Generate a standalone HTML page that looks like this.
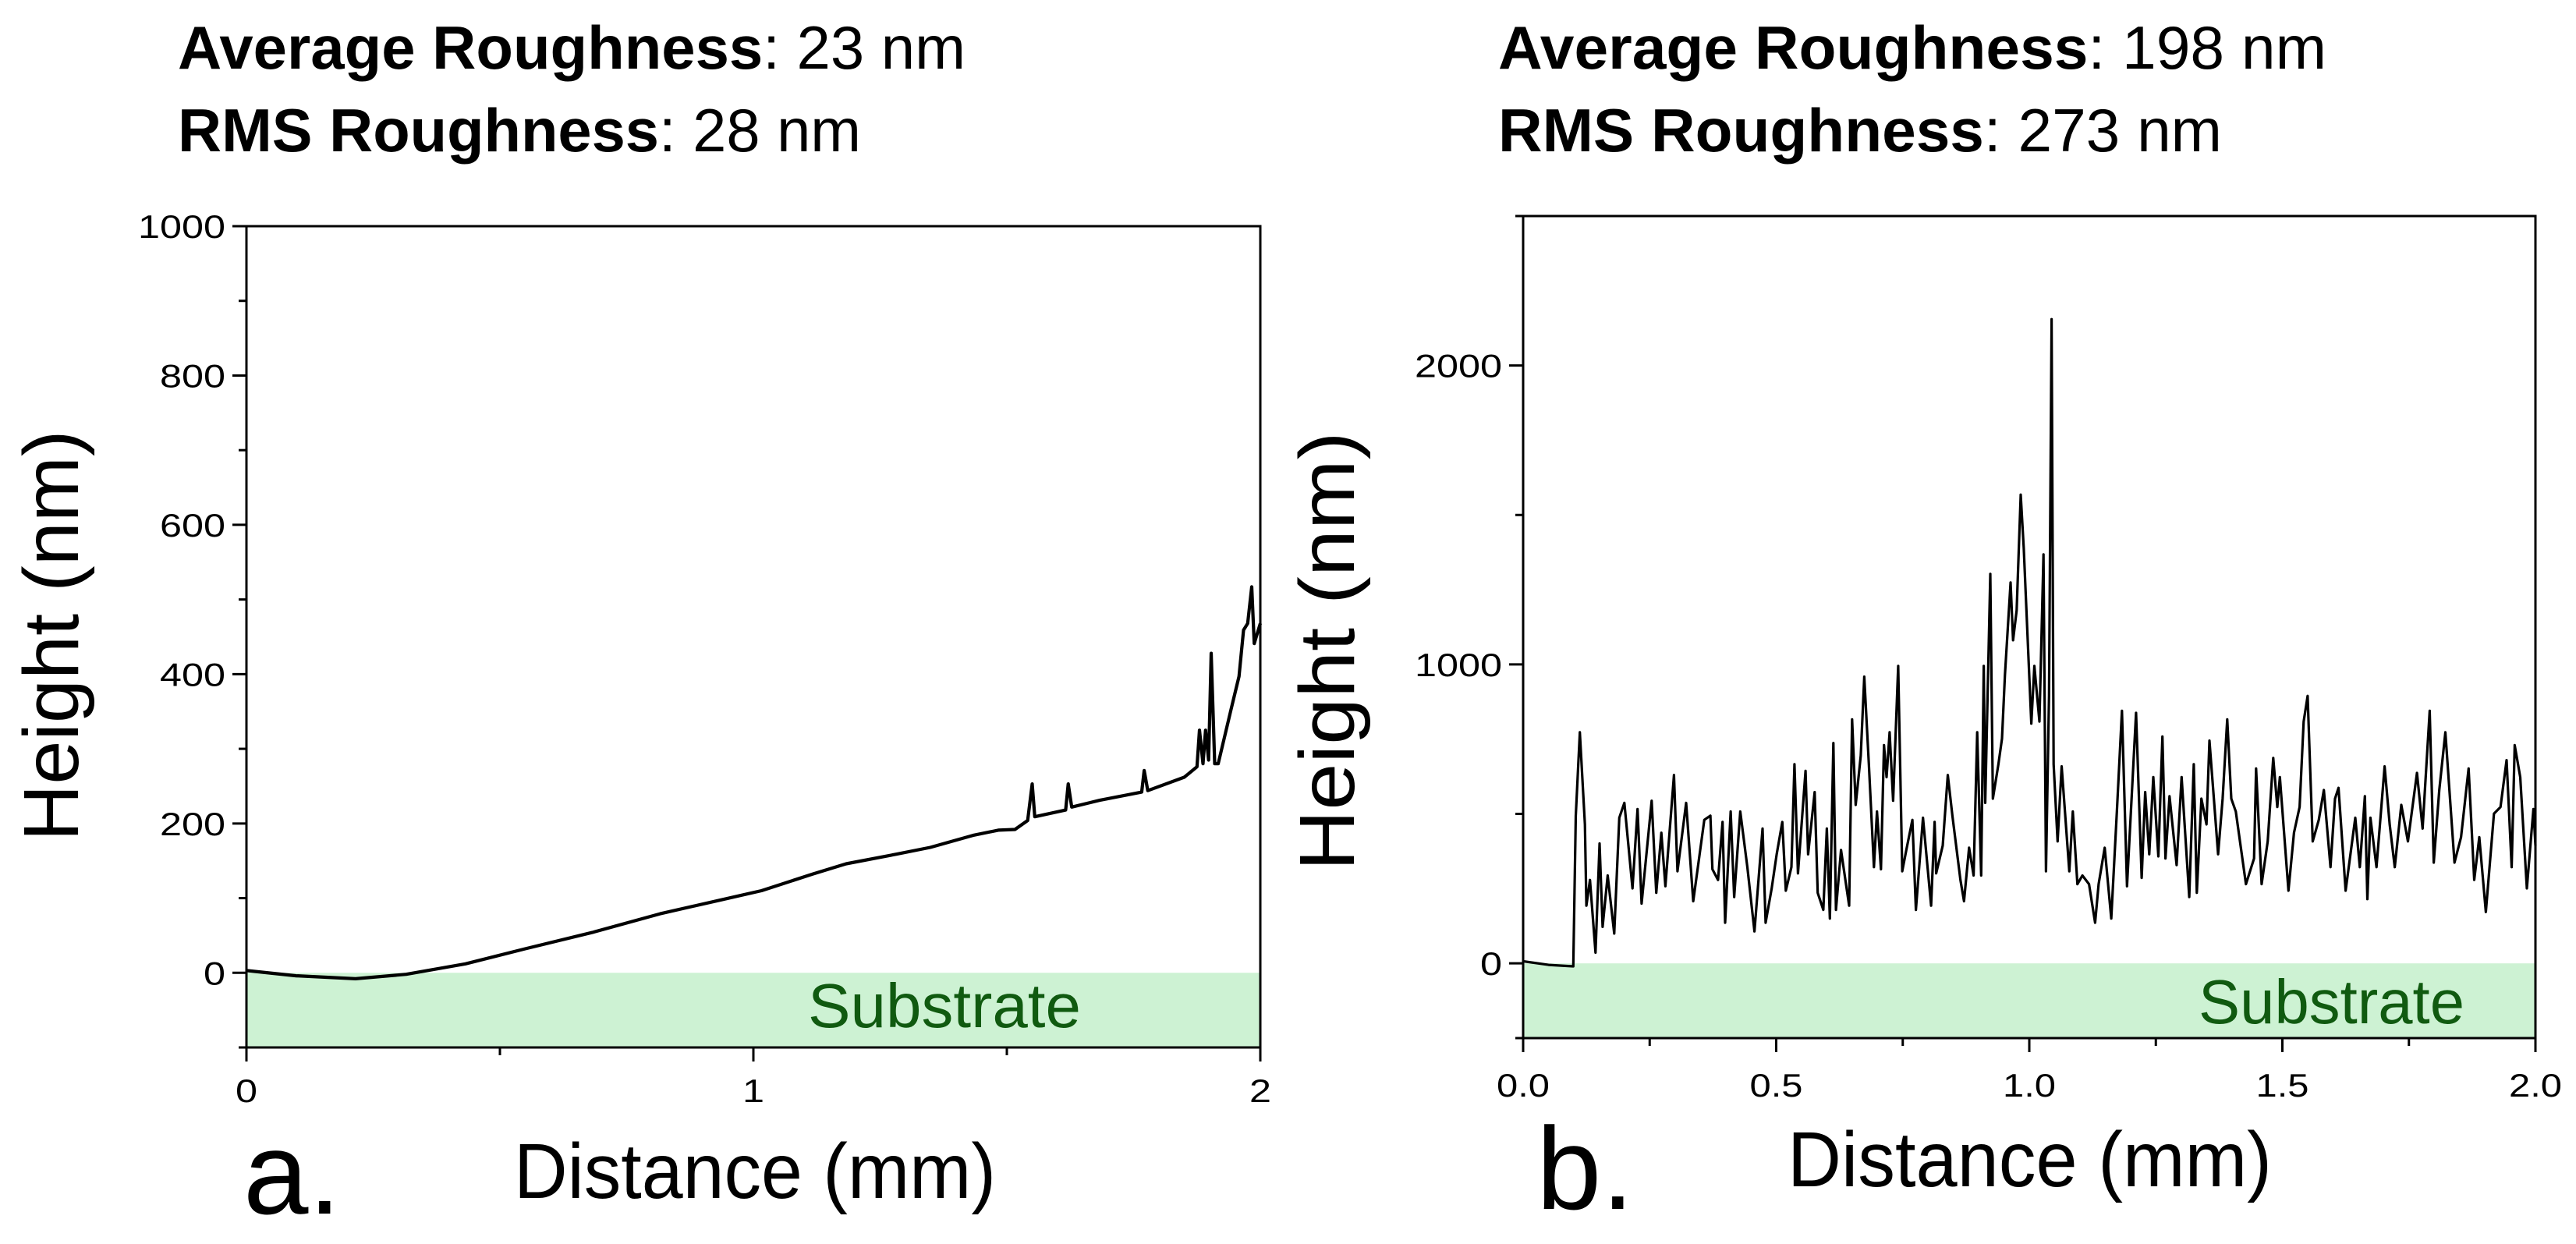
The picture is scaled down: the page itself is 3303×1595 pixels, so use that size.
<!DOCTYPE html>
<html><head><meta charset="utf-8"><style>
html,body{margin:0;padding:0;background:#fff;}
svg{display:block;font-family:"Liberation Sans",Arial,sans-serif;}
</style></head><body>
<svg id="fig" width="3303" height="1595" viewBox="0 0 3303 1595" xmlns="http://www.w3.org/2000/svg">
<g font-family="Liberation Sans, sans-serif" font-size="78">
<text x="228" y="88" textLength="1010" lengthAdjust="spacingAndGlyphs"><tspan font-weight="bold">Average Roughness</tspan>: 23 nm</text>
<text x="228" y="194" textLength="876" lengthAdjust="spacingAndGlyphs"><tspan font-weight="bold">RMS Roughness</tspan>: 28 nm</text>
</g>
<g font-family="Liberation Sans, sans-serif" font-size="78">
<text x="1921" y="88" textLength="1062" lengthAdjust="spacingAndGlyphs"><tspan font-weight="bold">Average Roughness</tspan>: 198 nm</text>
<text x="1921" y="194" textLength="928" lengthAdjust="spacingAndGlyphs"><tspan font-weight="bold">RMS Roughness</tspan>: 273 nm</text>
</g>
<g id="panelA"></g>
<g id="panelB"></g>
</svg>
<script>
// Chart a data
const aX = [0,0.098,0.215,0.315,0.432,0.549,0.682,0.816,0.932,1.016,1.116,1.183,1.283,1.349,1.433,1.483,1.516,1.541,1.55,1.555,1.616,1.621,1.628,1.683,1.766,1.771,1.778,1.85,1.875,1.88,1.887,1.892,1.898,1.903,1.91,1.917,1.942,1.958,1.967,1.975,1.983,1.988,2.0];
const aY = [3,-4,-8,-2,12,32,54,79,97,110,132,146,159,168,184,191,192,204,253,209,218,253,222,231,242,271,244,262,276,325,280,325,285,428,280,280,352,397,459,468,517,441,468];
const aYTicks = [0,200,400,600,800,1000];
const aXTicks = [0,1,2];
const aXTickLabels = ["0","1","2"];
// Chart b data
const bX = [0,0.05,0.099,0.104,0.112,0.122,0.125,0.132,0.143,0.151,0.157,0.167,0.18,0.19,0.2,0.216,0.226,0.234,0.254,0.263,0.273,0.281,0.298,0.305,0.322,0.336,0.358,0.37,0.374,0.385,0.394,0.399,0.41,0.417,0.429,0.443,0.457,0.473,0.479,0.491,0.501,0.512,0.519,0.53,0.536,0.543,0.558,0.563,0.576,0.582,0.593,0.6,0.606,0.613,0.618,0.628,0.644,0.65,0.657,0.667,0.674,0.683,0.693,0.699,0.707,0.713,0.718,0.724,0.731,0.741,0.749,0.757,0.769,0.776,0.79,0.806,0.813,0.816,0.829,0.839,0.848,0.864,0.871,0.881,0.89,0.897,0.905,0.91,0.913,0.923,0.928,0.939,0.946,0.952,0.963,0.968,0.975,0.983,0.989,1.004,1.01,1.02,1.028,1.033,1.039,1.044,1.048,1.056,1.064,1.079,1.086,1.095,1.105,1.118,1.13,1.137,1.149,1.162,1.173,1.183,1.193,1.211,1.222,1.229,1.237,1.245,1.255,1.263,1.269,1.277,1.291,1.301,1.316,1.325,1.331,1.34,1.35,1.356,1.373,1.382,1.391,1.399,1.408,1.428,1.444,1.448,1.459,1.471,1.482,1.49,1.495,1.512,1.523,1.534,1.542,1.55,1.56,1.572,1.582,1.595,1.604,1.611,1.625,1.644,1.653,1.663,1.668,1.674,1.686,1.702,1.712,1.722,1.735,1.748,1.766,1.777,1.791,1.799,1.81,1.822,1.84,1.853,1.868,1.879,1.889,1.902,1.918,1.931,1.943,1.953,1.959,1.97,1.983,1.996,2.0];
const bY = [7,-5,-10,494,773,465,193,279,36,401,122,294,100,487,537,251,516,200,544,236,437,258,630,308,537,208,480,494,315,279,473,136,508,222,508,322,107,451,136,251,365,473,243,322,666,301,644,365,573,236,179,451,150,737,179,379,193,816,530,695,959,666,322,508,315,730,623,773,544,995,308,379,480,179,487,193,473,301,394,630,494,279,208,387,294,773,294,995,537,1303,551,666,752,966,1274,1081,1181,1568,1389,802,995,809,1368,308,895,2155,666,408,659,308,508,265,294,265,136,265,387,150,508,845,258,838,286,573,365,623,358,759,351,559,329,623,222,666,236,551,465,745,365,551,816,551,508,265,351,652,265,408,687,523,623,243,437,523,809,895,408,480,580,322,551,587,243,487,322,559,215,487,322,659,465,322,530,408,637,451,845,337,580,773,337,422,652,279,422,172,501,523,680,322,730,623,251,516,394];
const bYTicks = [0,1000,2000];
const bYMinor = [-250,500,1500,2500];
const bXTicks = [0,0.5,1.0,1.5,2.0];
const bXTickLabels = ["0.0","0.5","1.0","1.5","2.0"];
const NS = "http://www.w3.org/2000/svg";
function mk(tag, attrs, parent){const e=document.createElementNS(NS,tag);for(const k in attrs)e.setAttribute(k,attrs[k]);parent.appendChild(e);return e;}
function panel(g, cfg){
  const L=cfg.L,R=cfg.R,T=cfg.T,B=cfg.B;
  const sx=v=>L+(v-cfg.x0)/(cfg.x1-cfg.x0)*(R-L);
  const sy=v=>B-(v-cfg.y0)/(cfg.y1-cfg.y0)*(B-T);
  const sub=mk('rect',{x:L,y:sy(0),width:R-L,height:B-sy(0),fill:'#cdf2d3'},g);
  
  
  const st=mk('text',{x:cfg.subX,y:cfg.subY,'font-size':80,fill:'#105a10','font-family':'Liberation Sans, sans-serif',textLength:cfg.subW,lengthAdjust:'spacingAndGlyphs'},g);
  st.textContent='Substrate';
  
  
  let d='';
  cfg.xs.forEach((x,i)=>{d+=(i?'L':'M')+sx(x).toFixed(1)+' '+sy(cfg.ys[i]).toFixed(1);});
  const ln=mk('path',{d:d,fill:'none',stroke:'#000','stroke-width':cfg.sw,'stroke-linejoin':'round'},g);
  
  
  const fr=mk('rect',{x:L,y:T,width:R-L,height:B-T,fill:'none',stroke:'#000','stroke-width':3},g);
  
  
  cfg.yTicks.forEach(v=>{
    const t=mk('line',{x1:L-18,x2:L,y1:sy(v),y2:sy(v),stroke:'#000','stroke-width':3},g);
    
    
    const s=String(v);
    const lb=mk('text',{x:L-27,y:sy(v)+15,'text-anchor':'end','font-size':42,textLength:s.length*28,lengthAdjust:'spacingAndGlyphs'},g);
    lb.textContent=s;
    
    
  });
  cfg.yMinor.forEach(v=>{
    const t=mk('line',{x1:L-10,x2:L,y1:sy(v),y2:sy(v),stroke:'#000','stroke-width':3},g);
    
    
  });
  cfg.xTicks.forEach((v,i)=>{
    const t=mk('line',{x1:sx(v),x2:sx(v),y1:B,y2:B+18,stroke:'#000','stroke-width':3},g);
    
    
    const s=cfg.xLabels[i];
    const lb=mk('text',{x:sx(v),y:cfg.xLabY,'text-anchor':'middle','font-size':42,textLength:s.replace('.','').length*28+(s.includes('.')?12:0),lengthAdjust:'spacingAndGlyphs'},g);
    lb.textContent=s;
    
    
  });
  cfg.xMinor.forEach(v=>{
    const t=mk('line',{x1:sx(v),x2:sx(v),y1:B,y2:B+10,stroke:'#000','stroke-width':3},g);
    
    
  });
  const yt=mk('text',{x:0,y:0,'font-size':100,'text-anchor':'middle',transform:`translate(${cfg.yTitleX},${cfg.yTitleY}) rotate(-90)`,textLength:cfg.yTitleW,lengthAdjust:'spacingAndGlyphs'},g);
  yt.textContent='Height (nm)';
  
  
  const xt=mk('text',{x:cfg.xTitleX,y:cfg.xTitleY,'font-size':100,textLength:cfg.xTitleW,lengthAdjust:'spacingAndGlyphs'},g);
  xt.textContent='Distance (mm)';
  
  
  const pl=mk('text',{x:cfg.letX,y:cfg.letY,'font-size':150},g);
  pl.textContent=cfg.letter;
  
  
}
const aMinor=[]; for(let v=-100;v<=900;v+=200) aMinor.push(v);
panel(document.getElementById('panelA'),{L:316,R:1616,T:290,B:1343,x0:0,x1:2,y0:-100,y1:1000,
  xs:aX,ys:aY,sw:4.2,yTicks:aYTicks,yMinor:aMinor,xTicks:aXTicks,xLabels:aXTickLabels,xMinor:[0.5,1.5],xLabY:1413,
  subX:1036,subY:1317,subW:350,yTitleX:100,yTitleY:815,yTitleW:527,xTitleX:659,xTitleY:1536,xTitleW:618,
  letX:312,letY:1556,letter:'a.'});
panel(document.getElementById('panelB'),{L:1953,R:3251,T:277,B:1331,x0:0,x1:2,y0:-250,y1:2500,
  xs:bX,ys:bY,sw:3.2,yTicks:bYTicks,yMinor:bYMinor,xTicks:bXTicks,xLabels:bXTickLabels,xMinor:[0.25,0.75,1.25,1.75],xLabY:1406,
  subX:2819,subY:1312,subW:341,yTitleX:1736,yTitleY:835,yTitleW:563,xTitleX:2292,xTitleY:1521,xTitleW:621,
  letX:1970,letY:1550,letter:'b.'});
</script>
</body></html>
